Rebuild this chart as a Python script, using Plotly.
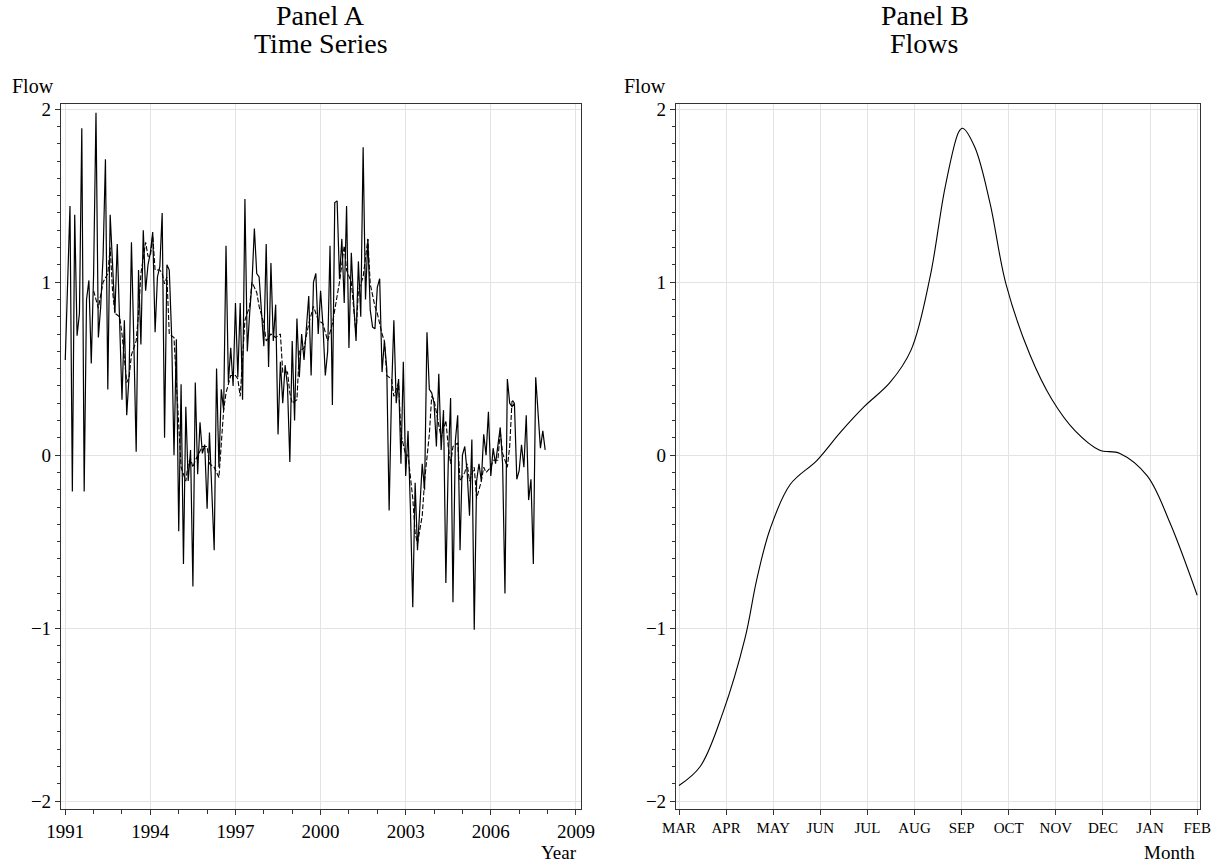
import plotly.graph_objects as go

# ---------------- Panel A data (monthly, starting Jan 1991) ----------------
start_year = 1991
solid_flow = [
    0.55, 1.00, 1.44, -0.21, 1.39, 0.69, 0.82, 1.89, -0.21, 0.90, 1.01, 0.53,
    1.05, 1.98, 0.68, 0.86, 1.15, 1.71, 0.38, 1.39, 1.07, 0.82, 1.22, 0.70,
    0.32, 0.78, 0.23, 0.46, 1.23, 0.66, 0.02, 1.07, 0.64, 1.30, 0.95, 1.10,
    1.17, 1.29, 0.71, 1.03, 1.09, 1.40, 0.10, 1.10, 1.07, 0.69, 0.00, 0.67,
    -0.44, 0.41, -0.63, 0.28, -0.15, 0.03, -0.76, 0.42, -0.11, 0.19, 0.01, 0.06,
    -0.31, 0.13, -0.25, -0.55, 0.50, -0.07, 0.38, 0.26, 1.21, 0.42, 0.62, 0.40,
    0.88, 0.45, 0.88, 0.32, 1.48, 0.60, 0.82, 1.00, 1.31, 1.05, 1.03, 0.85,
    0.63, 1.22, 0.51, 1.11, 0.66, 0.87, 0.12, 0.54, 0.30, 0.52, 0.40, -0.04,
    0.66, 0.20, 0.79, 0.45, 0.70, 0.55, 0.75, 0.92, 0.46, 1.00, 1.05, 0.70,
    0.95, 0.75, 0.46, 0.60, 1.21, 0.29, 1.46, 1.47, 1.02, 1.25, 0.88, 1.44,
    0.62, 1.17, 0.88, 0.66, 1.12, 0.80, 1.78, 0.90, 1.25, 0.84, 0.74, 0.73,
    0.97, 1.02, 0.48, 0.66, 0.50, -0.32, 0.35, 0.78, 0.30, 0.44, -0.05, 0.54,
    -0.12, 0.14, -0.31, -0.88, -0.16, -0.55, -0.30, -0.05, -0.20, 0.71, 0.38, 0.36,
    0.30, 0.05, 0.47, 0.03, 0.26, -0.74, -0.05, 0.33, -0.85, 0.08, 0.23, -0.55,
    0.00, 0.05, -0.10, -0.35, 0.09, -1.01, -0.15, -0.05, -0.15, 0.12, 0.00, 0.25,
    -0.12, 0.04, -0.05, 0.05, 0.16, -0.05, -0.80, 0.44, 0.30, 0.28, 0.30, -0.14,
    -0.09, 0.06, -0.07, 0.23, -0.26, -0.14, -0.63, 0.45, 0.25, 0.04, 0.14, 0.03,
]

dashed_month = [
    12, 14, 16, 18, 19, 20, 21, 23, 24, 25, 26, 27, 28, 30, 31, 32, 34, 35, 36, 37,
    38, 40, 41, 42, 43, 44, 46, 47, 48, 49, 51, 52, 53, 54, 55, 57, 58, 60, 61, 63,
    65, 67, 68, 70, 72, 73, 74, 76, 78, 79, 81, 82, 84, 85, 87, 89, 91, 92, 94, 95,
    96, 98, 99, 101, 103, 105, 107, 109, 111, 113, 115, 116, 118, 119, 121, 122, 123, 124, 126, 128,
    129, 131, 132, 134, 135, 136, 138, 139, 141, 142, 144, 145, 147, 148, 149, 151, 152, 154, 155, 156,
    158, 159, 161, 162, 163, 164, 166, 167, 169, 170, 171, 173, 174, 176, 177, 178, 180, 181, 183, 184,
    185, 187, 188, 189, 190,
]
dashed_flow = [
    0.95, 0.85, 1.00, 1.05, 1.20, 0.95, 0.82, 0.80, 0.70, 0.55, 0.42, 0.45, 0.58, 0.66, 0.82, 1.05, 1.23, 1.15, 1.15, 1.27,
    1.07, 1.07, 1.05, 0.99, 1.03, 0.70, 0.68, 0.42, 0.16, -0.07, -0.15, -0.05, -0.02, -0.07, -0.03, 0.03, 0.05, 0.05, -0.05, -0.07,
    -0.13, 0.26, 0.36, 0.46, 0.46, 0.44, 0.34, 0.78, 0.86, 1.00, 0.94, 0.86, 0.76, 0.66, 0.70, 0.68, 0.70, 0.48, 0.48, 0.36,
    0.30, 0.32, 0.60, 0.62, 0.76, 0.86, 0.78, 0.76, 0.66, 0.76, 0.93, 1.00, 1.21, 1.07, 1.00, 0.86, 0.70, 0.95, 1.03, 1.25,
    0.99, 0.86, 0.82, 0.70, 0.66, 0.46, 0.44, 0.34, 0.42, 0.12, 0.00, 0.00, -0.25, -0.45, -0.51, -0.35, -0.15, 0.12, 0.34, 0.32,
    0.18, 0.10, 0.20, 0.05, -0.05, 0.05, 0.07, -0.15, -0.10, -0.05, -0.15, -0.07, -0.25, -0.15, -0.07, -0.10, -0.07, -0.03, -0.03, 0.14,
    0.01, -0.07, 0.05, 0.32, 0.30,
]

year_ticks = [1991, 1994, 1997, 2000, 2003, 2006, 2009]

# ---------------- Panel B data ----------------
month_labels = ["MAR", "APR", "MAY", "JUN", "JUL", "AUG", "SEP", "OCT", "NOV", "DEC", "JAN", "FEB"]
flows_pos = [0.0, 0.45, 0.93, 1.40, 1.65, 1.93, 2.36, 2.93, 3.42, 3.93, 4.48, 4.93, 5.33, 5.65,
             5.94, 6.02, 6.28, 6.60, 6.94, 7.45, 7.92, 8.41, 8.92, 9.36, 9.94, 10.42, 11.0]
flows_val = [-1.91, -1.80, -1.49, -1.06, -0.72, -0.43, -0.17, -0.03, 0.13, 0.28, 0.42, 0.61, 1.03, 1.55,
             1.87, 1.89, 1.78, 1.46, 0.99, 0.58, 0.32, 0.14, 0.03, 0.01, -0.12, -0.39, -0.81]

y_ticks = [-2, -1, 0, 1, 2]

# ---------------- figure ----------------
W, H = 1211, 866
FONT = "Liberation Serif"

def px_x(p):
    return p / W

def px_y(p):
    return 1 - p / H

fig = go.Figure()

xa = [start_year + m / 12 for m in range(len(solid_flow))]
fig.add_trace(go.Scatter(x=xa, y=solid_flow, mode="lines",
                         line=dict(color="black", width=1.2),
                         xaxis="x", yaxis="y", showlegend=False))
xd = [start_year + m / 12 for m in dashed_month]
fig.add_trace(go.Scatter(x=xd, y=dashed_flow, mode="lines",
                         line=dict(color="black", width=1.1, dash="5px,2px"),
                         xaxis="x", yaxis="y", showlegend=False))
fig.add_trace(go.Scatter(x=flows_pos, y=flows_val, mode="lines",
                         line=dict(color="black", width=1.1, shape="spline", smoothing=1.0),
                         xaxis="x2", yaxis="y2", showlegend=False))

ydom = [px_y(809), px_y(104)]
axis_common = dict(
    showline=True, linecolor="#333", linewidth=1.2, mirror=True,
    ticks="outside", ticklen=5, tickcolor="#333", tickwidth=1,
    showgrid=True, gridcolor="#e3e3e3", gridwidth=1,
    zeroline=False, automargin=False,
    tickfont=dict(family=FONT, size=19, color="black"),
)

yaxis_common = dict(axis_common)
yaxis_common.update(
    range=[-2.046, 2.03], tickvals=y_ticks, ticktext=[str(v).replace("-", "\u2212") for v in y_ticks],
    minor=dict(dtick=0.1, tick0=0, ticks="outside", ticklen=3, tickcolor="#333", showgrid=False),
    domain=ydom,
)

fig.update_layout(
    width=W, height=H, margin=dict(l=0, r=0, t=0, b=0),
    paper_bgcolor="white", plot_bgcolor="white",
    template="none",
    xaxis=dict(axis_common, domain=[px_x(61), px_x(581)], range=[1990.85, 2009.18],
               tickvals=year_ticks, ticktext=[str(v) for v in year_ticks], anchor="y",
               minor=dict(dtick=1, tick0=1991, ticks="outside", ticklen=4, tickcolor="#333", showgrid=False)),
    yaxis=dict(yaxis_common, anchor="x"),
    xaxis2=dict(axis_common, domain=[px_x(676), px_x(1200)], range=[-0.064, 11.06],
                tickvals=list(range(12)), ticktext=month_labels, anchor="y2",
                tickfont=dict(family=FONT, size=15, color="black")),
    yaxis2=dict(yaxis_common, anchor="x2"),
)

def note(text, x, y, size, xanchor="center"):
    fig.add_annotation(text=text, x=px_x(x), y=px_y(y), xref="paper", yref="paper",
                       showarrow=False, xanchor=xanchor, yanchor="middle",
                       font=dict(family=FONT, size=size, color="black"))

note("Panel A", 320, 16, 28)
note("Time Series", 321, 44, 28)
note("Panel B", 925, 16, 28)
note("Flows", 924, 44, 28)
note("Flow", 10, 86, 20, "left")
note("Flow", 622, 86, 20, "left")
note("Year", 579, 852, 19, "right")
note("Month", 1197, 852, 19, "right")

fig.write_html("out.html")
